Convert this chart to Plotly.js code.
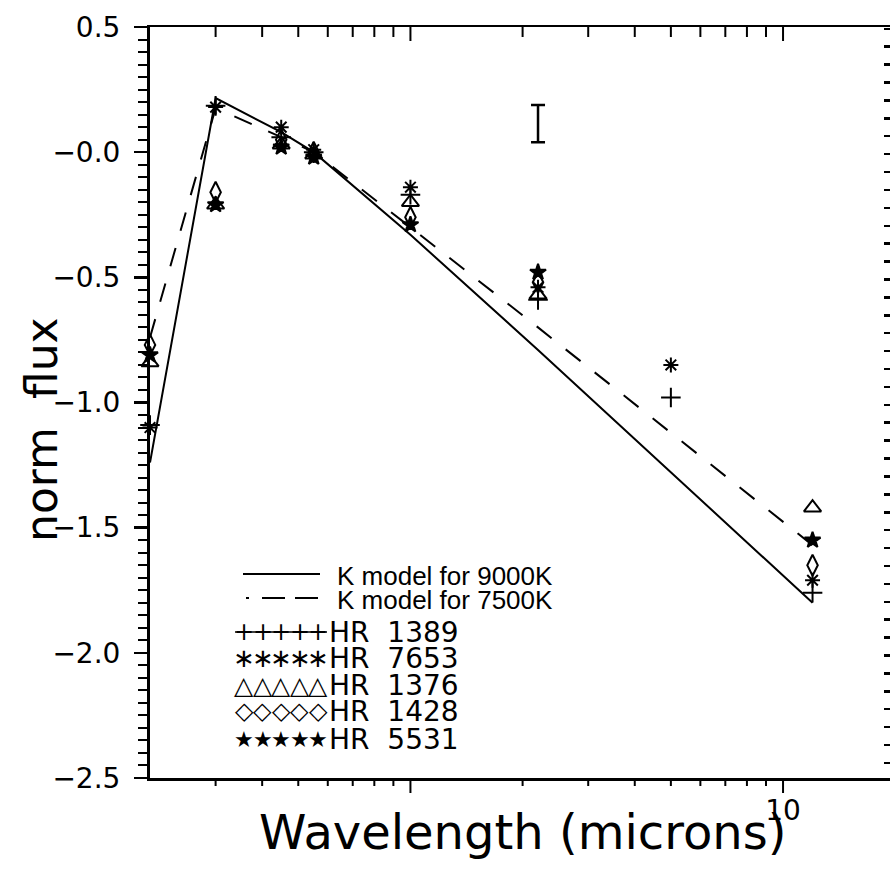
<!DOCTYPE html>
<html><head><meta charset="utf-8">
<script src="https://cdn.plot.ly/plotly-3.0.1.min.js"></script>
<style>html,body{margin:0;padding:0;background:#fff}#chart{width:890px;height:869px}</style>
</head><body><div id="chart"></div>
<script>
// ---- data ----
const wavelengths = [0.2, 0.3, 0.45, 0.55, 1.0, 2.2, 5.0, 12.0];
const hr1389 = [-1.09, 0.185, 0.06, 0.00, -0.17, -0.59, -0.98, -1.76];
const hr7653 = [-1.10, 0.18, 0.10, 0.01, -0.14, -0.54, -0.85, -1.71];
const hr1376 = [-0.84, -0.21, 0.03, -0.01, -0.20, -0.57, null, -1.42];
const hr1428 = [-0.77, -0.16, 0.05, 0.00, -0.26, -0.52, null, -1.65];
const hr5531 = [-0.81, -0.21, 0.02, -0.02, -0.29, -0.48, null, -1.55];

const modelWavelengths = [0.2, 0.3, 0.45, 0.55, 1.0, 2.2, 12.0];
const model9000 = [-1.24, 0.216, 0.08, 0.00, -0.33, -0.79, -1.80];
const model7500 = [-0.74, 0.176, 0.06, 0.00, -0.30, -0.70, -1.57];

const errWavelength = [2.2];
const errCenter = [0.114];
const errHalf = [0.074];

const yTickVals = [0.5, 0, -0.5, -1.0, -1.5, -2.0, -2.5];
const yTickText = ['0.5', '\u22120.0', '\u22120.5', '\u22121.0', '\u22121.5', '\u22122.0', '\u22122.5'];
const xLabelVals = [10];
const xLabelText = ['10'];
const xDecadeTicks = [1, 10];
const xMinorTicks = [0.3, 0.4, 0.5, 0.6, 0.7, 0.8, 0.9, 2, 3, 4, 5, 6, 7, 8, 9];

const seriesNames = ['HR 1389', 'HR 7653', 'HR 1376', 'HR 1428', 'HR 5531'];
const seriesValues = [hr1389, hr7653, hr1376, hr1428, hr5531];
const legendModelLabels = ['K model for 9000K', 'K model for 7500K'];
const legendStarLabels = ['HR\u00a0 1389', 'HR\u00a0 7653', 'HR\u00a0 1376', 'HR\u00a0 1428', 'HR\u00a0 5531'];
const legendGlyphs = ['+', '\u2217', '\u25B3', '\u25C7', '\u2605'];
const axisTitleY = 'norm\u00a0 flux';
const axisTitleX = 'Wavelength (microns)';

// ---- styles ----
const FONT = 'DejaVu Sans, Liberation Sans, sans-serif';
const FONT2 = 'Liberation Sans, Arial, sans-serif';
const symbols = ['cross-thin-open', 'asterisk-open', 'triangle-up-open', 'diamond-tall-open', 'star'];
const sizes = [14, 12.5, 15, 15, 12];

// plot region extends 17 px below the x axis, so the bottom tick marks sit inside it
const W = 890, H = 869, L = 150, R = 0, T = 27, B = 74, AXIS_Y = 778;
const pw = W - L - R, ph = H - T - B;
const px = x => (x - L) / pw;
const py = y => (H - B - y) / ph;
const yDomain = [py(AXIS_Y), 1];
const xRange = [Math.log10(0.2), Math.log10(0.2) + pw / 372.6];
const xPaper = v => (Math.log10(v) - xRange[0]) / (xRange[1] - xRange[0]);

const traces = [];
traces.push({x: modelWavelengths, y: model9000, mode: 'lines', line: {color: '#000', width: 2}, showlegend: false});
traces.push({x: modelWavelengths, y: model7500, mode: 'lines', line: {color: '#000', width: 2, dash: '19px,18px'}, showlegend: false});
seriesValues.forEach((vals, i) => {
  traces.push({
    x: wavelengths, y: vals, name: seriesNames[i], mode: 'markers', cliponaxis: false, showlegend: false,
    marker: {symbol: symbols[i], size: sizes[i], color: '#000', line: {color: '#000', width: 2}}
  });
});
traces.push({
  x: errWavelength, y: errCenter, mode: 'markers', showlegend: false,
  marker: {size: 1, color: 'rgba(0,0,0,0)'},
  error_y: {type: 'data', array: errHalf, visible: true, color: '#000', thickness: 2.5, width: 7}
});
// empty traces that carry the right-hand tick axis and the thin strip under the x axis
traces.push({x: [], y: [], xaxis: 'x', yaxis: 'y2', showlegend: false});
traces.push({x: [], y: [], xaxis: 'x', yaxis: 'y3', showlegend: false});

const shapes = [];
const annotations = [];
// x-axis tick marks (bottom ticks point down from the axis, top ticks point in)
function xTick(v, yStart, len) {
  const xp = xPaper(v);
  shapes.push({type: 'line', xref: 'paper', yref: 'paper', x0: xp, x1: xp, y0: yStart, y1: yStart - len / ph, line: {color: '#000', width: 2}, layer: 'above'});
}
xMinorTicks.forEach(v => { xTick(v, yDomain[0], 8); xTick(v, 1, 10); });
xDecadeTicks.forEach(v => { xTick(v, yDomain[0], 15); xTick(v, 1, 14); });

// legend
const rowsY = [576, 600, 632, 658, 685, 711, 739];
const lineStyle = {color: '#000', width: 2};
shapes.push({type: 'line', xref: 'paper', yref: 'paper', x0: px(243), x1: px(320), y0: py(574), y1: py(574), line: lineStyle});
shapes.push({type: 'line', xref: 'paper', yref: 'paper', x0: px(246), x1: px(249), y0: py(598), y1: py(598), line: lineStyle});
shapes.push({type: 'line', xref: 'paper', yref: 'paper', x0: px(262), x1: px(285), y0: py(598), y1: py(598), line: lineStyle});
shapes.push({type: 'line', xref: 'paper', yref: 'paper', x0: px(295), x1: px(318), y0: py(598), y1: py(598), line: lineStyle});
shapes.push({type: 'line', xref: 'paper', yref: 'paper', x0: px(235), x1: px(327), y0: py(632), y1: py(632), line: {color: '#000', width: 1.5}});

legendModelLabels.forEach((t, i) => {
  annotations.push({text: t, xref: 'paper', yref: 'paper', x: px(335), y: py(rowsY[i]), xanchor: 'left', yanchor: 'middle', showarrow: false, font: {family: FONT2, size: 26, color: '#000'}});
});
const glyphSizes = [24, 26, 25, 24, 22];
legendStarLabels.forEach((t, i) => {
  annotations.push({text: t, xref: 'paper', yref: 'paper', x: px(327), y: py(rowsY[i + 2]), xanchor: 'left', yanchor: 'middle', showarrow: false, font: {family: FONT, size: 28, color: '#000'}});
  for (let k = 0; k < 5; k++) {
    annotations.push({text: legendGlyphs[i], xref: 'paper', yref: 'paper', x: px(244 + 18.5 * k), y: py(rowsY[i + 2]), xanchor: 'center', yanchor: 'middle', showarrow: false, font: {family: FONT, size: glyphSizes[i], color: '#000'}});
  }
});
// axis titles
annotations.push({text: axisTitleY, xref: 'paper', yref: 'paper', x: px(42), y: py(430), xanchor: 'center', yanchor: 'middle', textangle: -90, showarrow: false, font: {family: FONT, size: 44, color: '#000'}});
annotations.push({text: axisTitleX, xref: 'paper', yref: 'paper', x: px(522), y: py(832), xanchor: 'center', yanchor: 'middle', showarrow: false, font: {family: FONT, size: 48, color: '#000'}});

const layout = {
  width: W, height: H,
  margin: {l: L, r: R, t: T, b: B},
  paper_bgcolor: '#fff', plot_bgcolor: '#fff',
  font: {family: FONT, color: '#000'},
  showlegend: false,
  xaxis: {
    type: 'log', range: xRange, anchor: 'y', showgrid: false, zeroline: false,
    showline: true, mirror: true, linecolor: '#000', linewidth: 2.5,
    tickmode: 'array', tickvals: xLabelVals, ticktext: xLabelText, ticks: '',
    tickfont: {family: FONT, size: 28, color: '#000'}, ticklabelstandoff: 6
  },
  yaxis: {
    domain: yDomain, anchor: 'x',
    range: [-2.5, 0.5], showline: true, linecolor: '#000', linewidth: 3,
    showgrid: false, zeroline: false,
    tickmode: 'array', tickvals: yTickVals, ticktext: yTickText,
    ticks: 'outside', ticklen: 13, tickwidth: 2.5, tickcolor: '#000',
    tickfont: {family: FONT, size: 28, color: '#000'}, ticklabelstandoff: 8,
    minor: {dtick: 0.05, tick0: 0, ticks: 'outside', ticklen: 9, tickwidth: 2, tickcolor: '#000', showgrid: false}
  },
  yaxis2: {
    range: [0, 41.94], overlaying: 'y', side: 'right', anchor: 'x',
    showline: false, showgrid: false, zeroline: false,
    tick0: 0.84, dtick: 1, ticks: 'inside', ticklen: 6, tickwidth: 2.5, tickcolor: '#000',
    showticklabels: false
  },
  yaxis3: {
    domain: [0, yDomain[0]], anchor: 'free', position: 0, range: [0, 1],
    visible: false, showline: false, showgrid: false, zeroline: false, ticks: '', showticklabels: false
  },
  shapes: shapes,
  annotations: annotations
};

Plotly.newPlot('chart', traces, layout, {displayModeBar: false, staticPlot: true});
</script>
</body></html>
